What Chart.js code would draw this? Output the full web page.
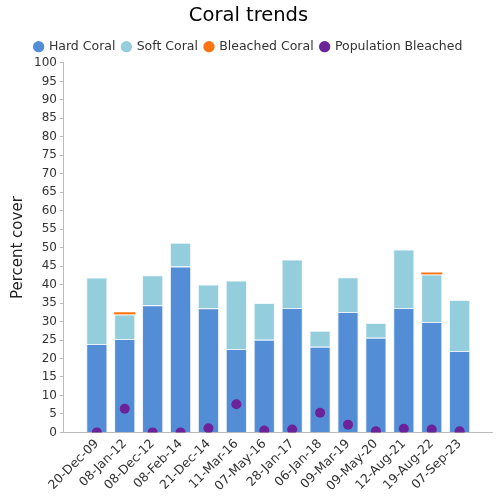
<!DOCTYPE html>
<html lang="en">
<head>
    <meta charset="UTF-8">
    <script src="https://cdn.jsdelivr.net/npm/chart.js"></script>
    <title>Coral trends</title>
    <style>
        body { margin: 0; background: #fff; }
        .grafico { width: 500px; height: 500px; }
    </style>
</head>
<body>
    <div class="grafico">
        <canvas id="myChart"></canvas>
    </div>
<script>
    // dados
    const datas = ['20-Dec-09', '08-Jan-12', '08-Dec-12', '08-Feb-14', '21-Dec-14', '11-Mar-16', '07-May-16',
        '28-Jan-17', '06-Jan-18', '09-Mar-19', '09-May-20', '12-Aug-21', '19-Aug-22', '07-Sep-23'];
    const hardCoral = [23.9, 25.3, 34.4, 44.9, 33.6, 22.6, 25.1, 33.7, 23.2, 32.6, 25.6, 33.7, 29.9, 22.0];
    const softCoral = [18.0, 6.6, 8.1, 6.4, 6.4, 18.5, 9.9, 13.1, 4.3, 9.4, 4.0, 15.8, 12.8, 13.8];
    const bleachedCoral = [null, 0.6, null, null, null, null, null, null, null, null, null, null, 0.6, null];
    const populacaoBranqueada = [0, 6.4, 0, 0, 1.1, 7.6, 0.5, 0.8, 5.3, 2.1, 0.3, 1.0, 0.8, 0.3];

    // eixo x linear para deixar a folga antes da primeira barra
    function pontos(valores) {
        return valores.map((v, i) => ({ x: i, y: v }));
    }

    const fonte = "'DejaVu Sans', sans-serif";
    Chart.defaults.font.family = fonte;
    Chart.defaults.color = '#333';

    const ctx = document.getElementById('myChart');

    const myChart = new Chart(ctx, {
        type: 'bar',
        data: {
            datasets: [{
                label: 'Hard Coral',
                data: pontos(hardCoral),
                backgroundColor: '#538dd5',
                borderColor: '#e8f0fa',
                borderWidth: 1,
                order: 1
            }, {
                label: 'Soft Coral',
                data: pontos(softCoral),
                backgroundColor: '#94cddb',
                borderColor: '#eef8fa',
                borderWidth: 1,
                order: 1
            }, {
                label: 'Bleached Coral',
                data: pontos(bleachedCoral),
                backgroundColor: '#ff7412',
                borderWidth: 0,
                order: 1
            }, {
                type: 'line',
                label: 'Population Bleached',
                data: pontos(populacaoBranqueada),
                showLine: false,
                backgroundColor: '#6c2298',
                borderColor: '#6c2298',
                borderWidth: 0,
                pointBorderWidth: 0,
                pointRadius: 5,
                pointHoverRadius: 5,
                order: 0
            }]
        },
        options: {
            responsive: true,
            maintainAspectRatio: false,
            animation: false,
            datasets: {
                bar: { barPercentage: 0.76, categoryPercentage: 1 }
            },
            layout: { padding: { left: 5, right: 8, top: 2, bottom: 2 } },
            plugins: {
                title: {
                    display: true,
                    text: 'Coral trends',
                    color: '#000',
                    font: { size: 19.5, weight: 'normal' },
                    padding: { top: 2, bottom: 6 }
                },
                legend: {
                    labels: {
                        usePointStyle: true,
                        pointStyle: 'circle',
                        boxWidth: 8,
                        boxHeight: 8,
                        padding: 7,
                        font: { size: 12.5 },
                        sort: (a, b) => a.datasetIndex - b.datasetIndex,
                        generateLabels: (chart) => {
                            const itens = Chart.defaults.plugins.legend.labels.generateLabels(chart);
                            itens.forEach(it => { it.lineWidth = 0; it.strokeStyle = it.fillStyle; });
                            return itens;
                        }
                    }
                },
                tooltip: { enabled: false }
            },
            scales: {
                x: {
                    type: 'linear',
                    stacked: true,
                    offset: false,
                    min: -1.18,
                    max: 14.16,
                    afterBuildTicks: (s) => { s.ticks = datas.map((d, i) => ({ value: i })); },
                    grid: { drawOnChartArea: false, drawTicks: false, color: '#bbb' },
                    border: { color: '#bbb' },
                    ticks: {
                        minRotation: 45,
                        maxRotation: 45,
                        autoSkip: false,
                        font: { size: 12.5 },
                        padding: 4,
                        callback: (v) => datas[v]
                    }
                },
                y: {
                    stacked: true,
                    min: 0,
                    max: 100,
                    grid: { drawOnChartArea: false, color: '#bbb', tickLength: 4 },
                    border: { color: '#bbb' },
                    ticks: { stepSize: 5, autoSkip: false, font: { size: 12 } },
                    title: {
                        display: true,
                        text: 'Percent cover',
                        color: '#222',
                        font: { size: 15 }
                    }
                }
            }
        }
    });
</script>
</body>
</html>
